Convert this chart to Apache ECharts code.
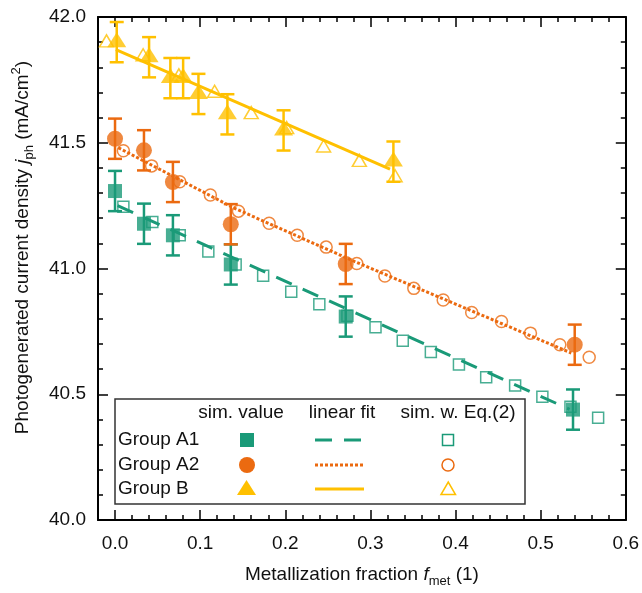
<!DOCTYPE html>
<html>
<head>
<meta charset="utf-8">
<script src="https://cdn.jsdelivr.net/npm/echarts@6/dist/echarts.min.js"></script>
<style>html,body{margin:0;padding:0;background:#fff}#c{width:642px;height:593px}</style>
</head>
<body>
<div id="c"></div>
<script>
// ---- data ----
const xMajorTicks = [0.0, 0.1, 0.2, 0.3, 0.4, 0.5, 0.6];
const xMinorTicks = [-0.02, 0.02, 0.04, 0.06, 0.08, 0.12, 0.14, 0.16, 0.18, 0.22, 0.24, 0.26, 0.28, 0.32, 0.34, 0.36, 0.38, 0.42, 0.44, 0.46, 0.48, 0.52, 0.54, 0.56, 0.58];

// Group A1 (sim. value with error bars)
const a1X = [0.0, 0.034, 0.068, 0.136, 0.271, 0.538];
const a1Y = [41.308, 41.178, 41.132, 41.016, 40.809, 40.439];
const a1Err = [0.08, 0.08, 0.08, 0.08, 0.08, 0.08];
// Group A2
const a2X = [0.0, 0.034, 0.068, 0.136, 0.271, 0.540];
const a2Y = [41.516, 41.47, 41.344, 41.176, 41.018, 40.697];
const a2Err = [0.08, 0.08, 0.08, 0.08, 0.08, 0.08];
// Group B
const bX = [0.002, 0.040, 0.065, 0.080, 0.098, 0.132, 0.198, 0.327];
const bY = [41.90, 41.84, 41.757, 41.757, 41.694, 41.613, 41.549, 41.425];
const bErr = [0.08, 0.08, 0.08, 0.08, 0.08, 0.08, 0.08, 0.08];

// linear fits
const a1FitX = [0.003, 0.534];
const a1FitY = [41.25, 40.44];
const a2FitX = [0.004, 0.14, 0.28, 0.42, 0.536];
const a2FitY = [41.48, 41.24, 41.03, 40.83, 40.664];
const bFitX = [0.001, 0.323];
const bFitY = [41.87, 41.395];

// sim. w. Eq.(2)
const a1SimX = [0.0098, 0.0438, 0.076, 0.1096, 0.1417, 0.174, 0.207, 0.240, 0.273, 0.306, 0.338, 0.371, 0.404, 0.436, 0.470, 0.502, 0.535, 0.5675];
const a1SimY = [41.246, 41.185, 41.132, 41.068, 41.016, 40.971, 40.908, 40.858, 40.812, 40.766, 40.713, 40.668, 40.618, 40.568, 40.535, 40.49, 40.45, 40.407];
const a2SimX = [0.0098, 0.043, 0.076, 0.112, 0.145, 0.181, 0.214, 0.248, 0.284, 0.317, 0.351, 0.3855, 0.419, 0.454, 0.488, 0.5225, 0.557];
const a2SimY = [41.468, 41.408, 41.345, 41.292, 41.228, 41.18, 41.132, 41.085, 41.02, 40.970, 40.921, 40.875, 40.825, 40.789, 40.743, 40.697, 40.647];
const bSimX = [-0.010, 0.033, 0.075, 0.117, 0.160, 0.2016, 0.245, 0.287, 0.329];
const bSimY = [41.905, 41.85, 41.77, 41.705, 41.62, 41.56, 41.487, 41.43, 41.369];

// ---- styles ----
const FONT = '"Liberation Sans", Arial, sans-serif';
const C_A1 = '#1A9A78', C_A2 = '#EB6A10', C_B = '#FFC000';
const TXT = '#111';

const zip = (xs, ys) => xs.map((x, i) => [x, ys[i]]);
const errData = (xs, ys, es) => xs.map((x, i) => [x, ys[i] - es[i], ys[i] + es[i]]);

function errSeries(xs, ys, es, color) {
  return {
    type: 'custom', z: 4,
    data: errData(xs, ys, es),
    encode: { x: 0, y: [1, 2] },
    renderItem: function (params, api) {
      const x = api.value(0), lo = api.value(1), hi = api.value(2);
      const pt = api.coord([x, hi]), pb = api.coord([x, lo]);
      const w = 7;
      const st = { stroke: color, lineWidth: 2.5 };
      return {
        type: 'group',
        children: [
          { type: 'line', shape: { x1: pt[0], y1: pt[1], x2: pb[0], y2: pb[1] }, style: st },
          { type: 'line', shape: { x1: pt[0] - w, y1: pt[1], x2: pt[0] + w, y2: pt[1] }, style: st },
          { type: 'line', shape: { x1: pb[0] - w, y1: pb[1], x2: pb[0] + w, y2: pb[1] }, style: st }
        ]
      };
    }
  };
}

function fitSeries(xs, ys, color, dash) {
  return {
    type: 'line', z: 2, data: zip(xs, ys), showSymbol: false, symbol: 'none',
    lineStyle: { color: color, width: 3, type: dash }, silent: true
  };
}
function simSeries(xs, ys, color, symbol, size) {
  return {
    type: 'scatter', z: 3, data: zip(xs, ys), symbol: symbol, symbolSize: size,
    itemStyle: { color: 'rgba(255,255,255,0)', borderColor: color, borderWidth: 1.5 }
  };
}
function valSeries(xs, ys, color, symbol, size, offset) {
  return {
    type: 'scatter', z: 5, data: zip(xs, ys), symbol: symbol, symbolSize: size,
    symbolOffset: offset || [0, 0],
    itemStyle: { color: color }
  };
}

const chart = echarts.init(document.getElementById('c'), null, { renderer: 'canvas' });

const baseX = {
  type: 'value', min: -0.02, max: 0.6, gridIndex: 0,
  splitLine: { show: false }
};
const baseY = {
  type: 'value', min: 40, max: 42, interval: 0.5, gridIndex: 0,
  splitLine: { show: false },
  axisLine: { show: true, onZero: false, lineStyle: { color: '#000', width: 2 } },
  axisTick: { show: true, inside: true, length: 10, lineStyle: { color: '#000', width: 1.5 } },
  minorTick: { show: true, splitNumber: 5, length: 5, lineStyle: { color: '#000', width: 1.5 } }
};

const legendItems = [];
// legend box
legendItems.push({ type: 'rect', z: 100, shape: { x: 115, y: 399, width: 410, height: 105 },
  style: { fill: '#fff', stroke: '#333', lineWidth: 1.5 } });
const hdr = [['sim. value', 241], ['linear fit', 342], ['sim. w. Eq.(2)', 458]];
hdr.forEach(h => legendItems.push({ type: 'text', z: 101, x: h[1], y: 413,
  style: { text: h[0], font: '19px ' + FONT, fill: TXT, align: 'center', verticalAlign: 'middle' } }));
const rows = [['Group A1', 440], ['Group A2', 465], ['Group B', 489]];
rows.forEach(r => legendItems.push({ type: 'text', z: 101, x: 118, y: r[1],
  style: { text: r[0], font: '19px ' + FONT, fill: TXT, align: 'left', verticalAlign: 'middle' } }));
// symbols
legendItems.push({ type: 'rect', z: 101, shape: { x: 240, y: 433, width: 14, height: 14 }, style: { fill: C_A1 } });
legendItems.push({ type: 'circle', z: 101, shape: { cx: 247, cy: 465, r: 8 }, style: { fill: C_A2 } });
legendItems.push({ type: 'polygon', z: 101, shape: { points: [[237, 495], [256, 495], [246.5, 480]] }, style: { fill: C_B } });
legendItems.push({ type: 'line', z: 101, shape: { x1: 315, y1: 440, x2: 362, y2: 440 }, style: { stroke: C_A1, lineWidth: 3, lineDash: [17, 12] } });
legendItems.push({ type: 'line', z: 101, shape: { x1: 315, y1: 465, x2: 364, y2: 465 }, style: { stroke: C_A2, lineWidth: 3, lineDash: [3, 2] } });
legendItems.push({ type: 'line', z: 101, shape: { x1: 315, y1: 489, x2: 364, y2: 489 }, style: { stroke: C_B, lineWidth: 3 } });
legendItems.push({ type: 'rect', z: 101, shape: { x: 442.5, y: 434.5, width: 11, height: 11 }, style: { fill: '#fff', stroke: C_A1, lineWidth: 1.5 } });
legendItems.push({ type: 'circle', z: 101, shape: { cx: 448, cy: 465, r: 6 }, style: { fill: '#fff', stroke: C_A2, lineWidth: 1.5 } });
legendItems.push({ type: 'polygon', z: 101, shape: { points: [[441, 494.5], [455.5, 494.5], [448.25, 482]] }, style: { fill: '#fff', stroke: C_B, lineWidth: 1.5 } });

const richName = {
  i: { fontStyle: 'italic', fontSize: 19, fontFamily: FONT, color: TXT, lineHeight: 26 },
  sub: { fontSize: 13, fontFamily: FONT, color: TXT, verticalAlign: 'bottom', lineHeight: 13 },
  sup: { fontSize: 13, fontFamily: FONT, color: TXT, verticalAlign: 'top', lineHeight: 13 }
};

const option = {
  animation: false,
  backgroundColor: '#fff',
  textStyle: { fontFamily: FONT },
  grid: { left: 98, top: 17, width: 528, height: 506, containLabel: false },
  xAxis: [
    Object.assign({}, baseX, {
      position: 'bottom',
      axisLine: { show: true, onZero: false, lineStyle: { color: '#000', width: 2 } },
      axisTick: { show: true, inside: true, length: 10, customValues: xMajorTicks, lineStyle: { color: '#000', width: 1.5 } },
      axisLabel: { show: true, customValues: xMajorTicks, formatter: v => v.toFixed(1), margin: 14, fontSize: 19, color: TXT, fontFamily: FONT },
      name: 'Metallization fraction {i|f}{sub|met} (1)',
      nameLocation: 'middle', nameGap: 42,
      nameTextStyle: { fontSize: 19, color: TXT, fontFamily: FONT, lineHeight: 26, rich: richName }
    }),
    Object.assign({}, baseX, {
      position: 'bottom',
      axisLine: { show: false, onZero: false },
      axisTick: { show: true, inside: true, length: 5, customValues: xMinorTicks, lineStyle: { color: '#000', width: 1.5 } },
      axisLabel: { show: false }
    }),
    Object.assign({}, baseX, {
      position: 'top',
      axisLine: { show: true, onZero: false, lineStyle: { color: '#000', width: 2 } },
      axisTick: { show: true, inside: true, length: 10, customValues: xMajorTicks, lineStyle: { color: '#000', width: 1.5 } },
      axisLabel: { show: false }
    }),
    Object.assign({}, baseX, {
      position: 'top',
      axisLine: { show: false, onZero: false },
      axisTick: { show: true, inside: true, length: 5, customValues: xMinorTicks, lineStyle: { color: '#000', width: 1.5 } },
      axisLabel: { show: false }
    })
  ],
  yAxis: [
    Object.assign({}, baseY, {
      position: 'left',
      axisLabel: { show: true, formatter: v => v.toFixed(1), margin: 12, fontSize: 19, color: TXT, fontFamily: FONT },
      name: 'Photogenerated current density {i|j}{sub|ph} (mA/cm{sup|2})',
      nameLocation: 'middle', nameGap: 62, nameRotate: 90,
      nameTextStyle: { fontSize: 19, color: TXT, fontFamily: FONT, lineHeight: 26, rich: richName, padding: [0, 0, 0, 42] }
    }),
    Object.assign({}, baseY, {
      position: 'right',
      axisLabel: { show: false }
    })
  ],
  series: [
    fitSeries(a1FitX, a1FitY, C_A1, [17, 12]),
    fitSeries(a2FitX, a2FitY, C_A2, [3, 2]),
    fitSeries(bFitX, bFitY, C_B, 'solid'),
    simSeries(a1SimX, a1SimY, C_A1, 'rect', 11),
    simSeries(a2SimX, a2SimY, C_A2, 'circle', 12),
    simSeries(bSimX, bSimY, C_B, 'triangle', [14, 12]),
    errSeries(a1X, a1Y, a1Err, C_A1),
    errSeries(a2X, a2Y, a2Err, C_A2),
    errSeries(bX, bY, bErr, C_B),
    valSeries(a1X, a1Y, C_A1, 'rect', 14),
    valSeries(a2X, a2Y, C_A2, 'circle', 16),
    valSeries(bX, bY, C_B, 'triangle', [19, 15], [0, -2.5])
  ],
  graphic: { elements: legendItems }
};
chart.setOption(option);
</script>
</body>
</html>
